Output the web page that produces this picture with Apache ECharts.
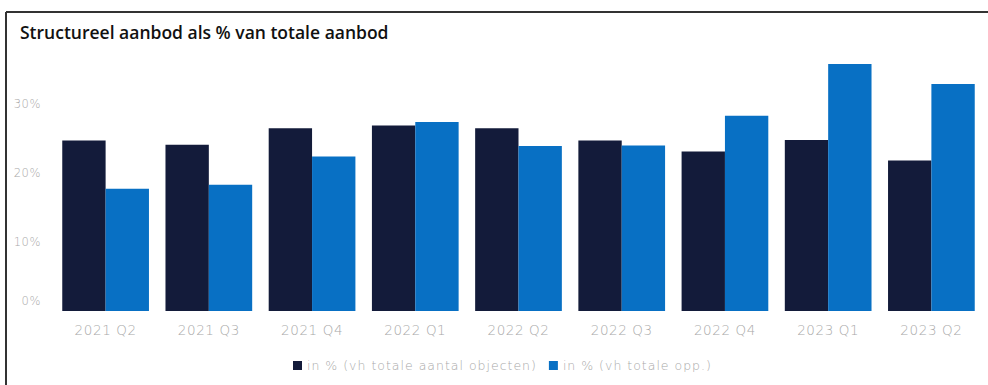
<!DOCTYPE html>
<html>
<head>
<meta charset="utf-8">
<script src="https://cdn.jsdelivr.net/npm/echarts@6/dist/echarts.min.js"></script>
<style>
  html, body { margin: 0; padding: 0; background: #ffffff; }
  #chart { width: 988px; height: 385px; }
  /* light grey labels are drawn slightly spaced out */
  #chart svg text[fill="#a9a9a9"] { letter-spacing: 1px; }
  #chart svg text[fill="#a8a8a8"] { letter-spacing: 0.6px; }
</style>
</head>
<body>
<div id="chart"></div>
<script>
// Quarters on the x axis
const quarters = ['2021 Q2', '2021 Q3', '2021 Q4', '2022 Q1', '2022 Q2', '2022 Q3', '2022 Q4', '2023 Q1', '2023 Q2'];
// Structural supply as share of total number of objects (%)
const shareObjects = [24.7, 24.1, 26.5, 26.9, 26.5, 24.7, 23.1, 24.8, 21.8];
// Structural supply as share of total floor area (%)
const shareArea = [17.7, 18.3, 22.4, 27.4, 23.9, 24.0, 28.3, 35.8, 32.9];
const seriesNames = ['in % (vh totale aantal objecten)', 'in % (vh totale opp.)'];
const yTicks = [0, 10, 20, 30, 40];

const chart = echarts.init(document.getElementById('chart'), null, { renderer: 'svg' });
const axisColor = '#a8a8a8';
const legendColor = '#a9a9a9';
const titleFont = '"Open Sans", "Noto Sans", sans-serif';
const thinFont = '"DejaVu Sans", sans-serif';

chart.setOption({
  animation: false,
  backgroundColor: '#ffffff',
  title: {
    text: 'Structureel aanbod als % van totale aanbod',
    left: 15,
    top: 18,
    textStyle: { fontFamily: titleFont, fontSize: 17.5, fontWeight: 600, color: '#111111' }
  },
  graphic: [
    { type: 'line', shape: { x1: 6, y1: 12, x2: 988, y2: 12 }, style: { stroke: '#333333', lineWidth: 2 } },
    { type: 'line', shape: { x1: 6, y1: 12, x2: 6, y2: 385 }, style: { stroke: '#333333', lineWidth: 2 } }
  ],
  legend: {
    bottom: 8,
    left: 288,
    itemWidth: 9,
    itemHeight: 9,
    itemGap: 44,
    icon: 'rect',
    textStyle: { fontFamily: thinFont, fontWeight: 200, fontSize: 12.5, color: legendColor },
    data: seriesNames
  },
  grid: { left: 54, right: 5, top: 35, bottom: 74 },
  xAxis: {
    type: 'category',
    data: quarters,
    axisLine: { show: false },
    axisTick: { show: false },
    axisLabel: { fontFamily: thinFont, fontWeight: 200, fontSize: 13.5, color: axisColor, margin: 12 }
  },
  yAxis: {
    type: 'value',
    min: yTicks[0],
    max: yTicks[yTicks.length - 1],
    interval: 10,
    splitLine: { show: false },
    axisLine: { show: false },
    axisTick: { show: false },
    axisLabel: {
      fontFamily: thinFont,
      fontWeight: 200,
      fontSize: 11.5,
      color: axisColor,
      margin: 13,
      formatter: function (v) {
        if (v === 40) return '';
        if (v === 0) return '{z|0%}';
        return v + '%';
      },
      rich: { z: { fontFamily: thinFont, fontWeight: 200, fontSize: 11.5, color: axisColor, padding: [0, 0, 20, 0] } }
    }
  },
  series: [
    {
      name: seriesNames[0],
      type: 'bar',
      data: shareObjects,
      barGap: '0%',
      barCategoryGap: '16%',
      itemStyle: { color: '#131b3a' }
    },
    {
      name: seriesNames[1],
      type: 'bar',
      data: shareArea,
      itemStyle: { color: '#0870c4' }
    }
  ]
});
</script>
</body>
</html>
